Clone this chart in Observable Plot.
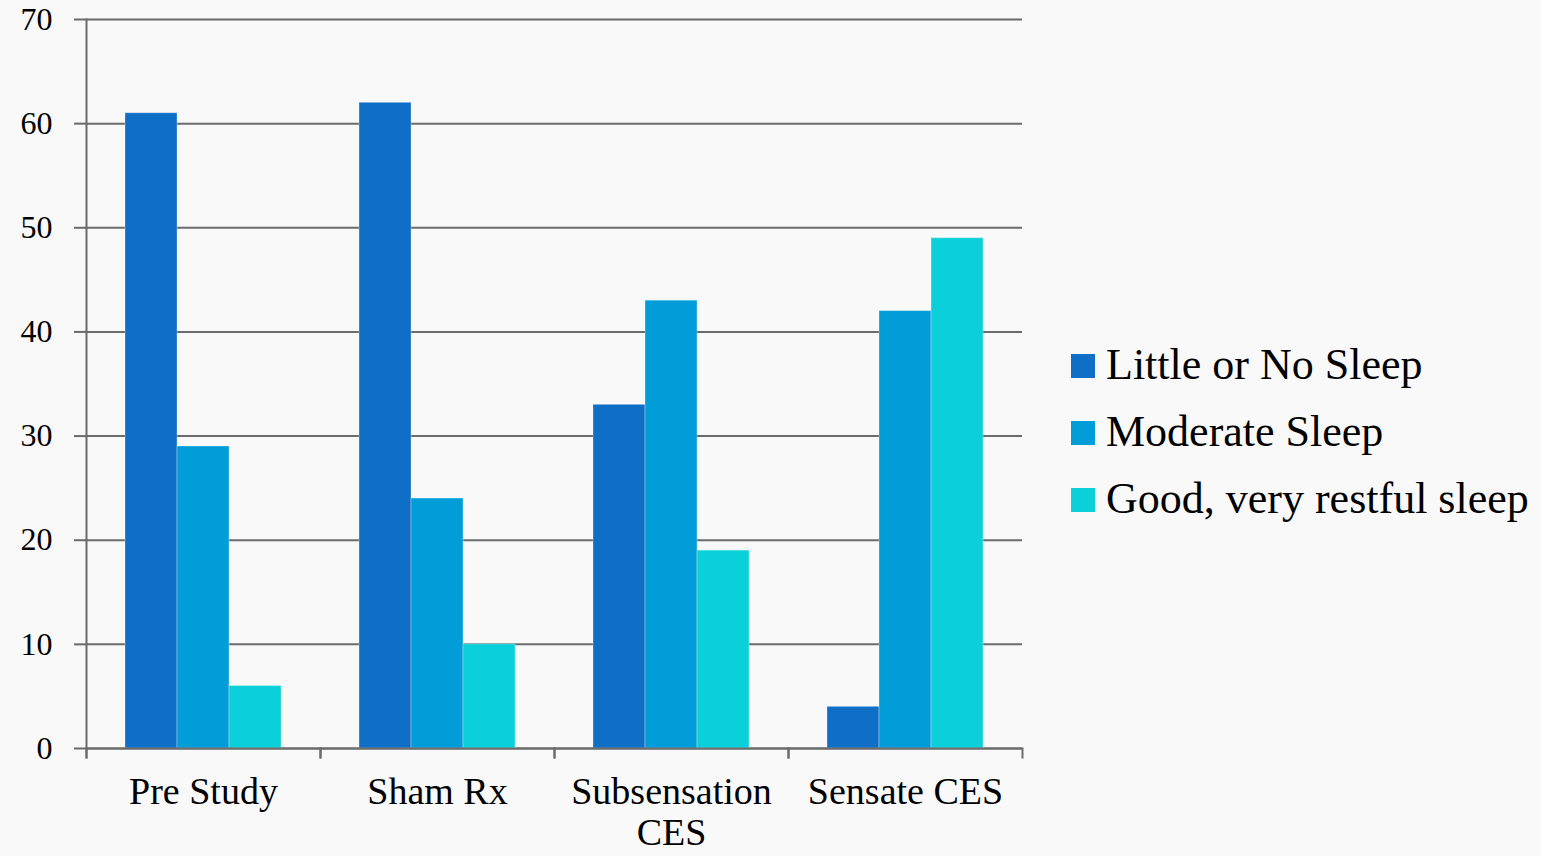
<!DOCTYPE html>
<html>
<head>
<meta charset="utf-8">
<script src="https://cdn.jsdelivr.net/npm/d3@7"></script>
<script src="https://cdn.jsdelivr.net/npm/@observablehq/plot@0.6"></script>
<style>
  html, body { margin: 0; padding: 0; }
  body {
    width: 1541px; height: 856px; overflow: hidden;
    background: #f9f9f9;
    font-family: "Liberation Serif", "DejaVu Serif", serif;
    display: flex; align-items: center;
  }
  #chart { flex: none; }
  #legend { margin-left: 26px; margin-top: 6px; }
  .item { display: flex; align-items: center; height: 67px; font-size: 44px; color: #000; white-space: nowrap; }
  .sw { width: 24px; height: 24px; margin-right: 11px; margin-top: 4px; flex: none; }
</style>
</head>
<body>
<div id="chart"></div>
<div id="legend"></div>
<script>
const categories = ["Pre Study", "Sham Rx", "Subsensation CES", "Sensate CES"];
const series = ["Little or No Sleep", "Moderate Sleep", "Good, very restful sleep"];
const littleOrNoSleep = [61, 62, 33, 4];
const moderateSleep = [29, 24, 43, 42];
const goodSleep = [6, 10, 19, 49];
const colors = ["#0F6FC6", "#009DD9", "#0BD0D9"];
const yTicks = [0, 10, 20, 30, 40, 50, 60, 70];

const seriesValues = [littleOrNoSleep, moderateSleep, goodSleep];
const data = [];
categories.forEach((c, i) => {
  series.forEach((s, j) => data.push({category: c, series: s, value: seriesValues[j][i]}));
});

const gray = "#6b6b6b";
const plotHeight = 856 - 19 - 108;

const chart = Plot.plot({
  width: 1045,
  height: 856,
  marginLeft: 85,
  marginRight: 22,
  marginTop: 19,
  marginBottom: 108,
  style: {background: "transparent", fontFamily: "'Liberation Serif', serif", color: "black"},
  fx: {domain: categories, padding: 0, label: null},
  x: {domain: series, paddingInner: 0, paddingOuter: 0.74, axis: null},
  y: {domain: [0, 70], label: null},
  color: {domain: series, range: colors},
  marks: [
    Plot.gridY(yTicks, {stroke: gray, strokeOpacity: 1, strokeWidth: 2}),
    Plot.barY(data, {fx: "category", x: "series", y: "value", fill: "series", stroke: "white", strokeOpacity: 0.3, strokeWidth: 1}),
    Plot.ruleY([0], {stroke: gray, strokeWidth: 2}),
    Plot.axisY(yTicks, {tickSize: 12, tickPadding: 22, fontSize: 32, stroke: gray, strokeWidth: 2, fill: "black", label: null}),
    Plot.axisFx({anchor: "bottom", tickSize: 0, tickPadding: 26, fontSize: 38, lineHeight: 1.08, fill: "black", label: null,
      tickFormat: d => d.replace("Subsensation ", "Subsensation\n")}),
    Plot.frame({anchor: "left", facet: "super", insetBottom: -9, stroke: gray, strokeWidth: 2}),
    Plot.frame({anchor: "left", insetTop: plotHeight, insetBottom: -9, stroke: gray, strokeWidth: 2}),
    Plot.frame({anchor: "right", insetTop: plotHeight, insetBottom: -9, stroke: gray, strokeWidth: 2})
  ]
});
document.getElementById("chart").appendChild(chart);

const legend = document.getElementById("legend");
series.forEach((s, j) => {
  const item = document.createElement("div");
  item.className = "item";
  const sw = document.createElement("span");
  sw.className = "sw";
  sw.style.background = colors[j];
  item.appendChild(sw);
  item.appendChild(document.createTextNode(s));
  legend.appendChild(item);
});
</script>
</body>
</html>
